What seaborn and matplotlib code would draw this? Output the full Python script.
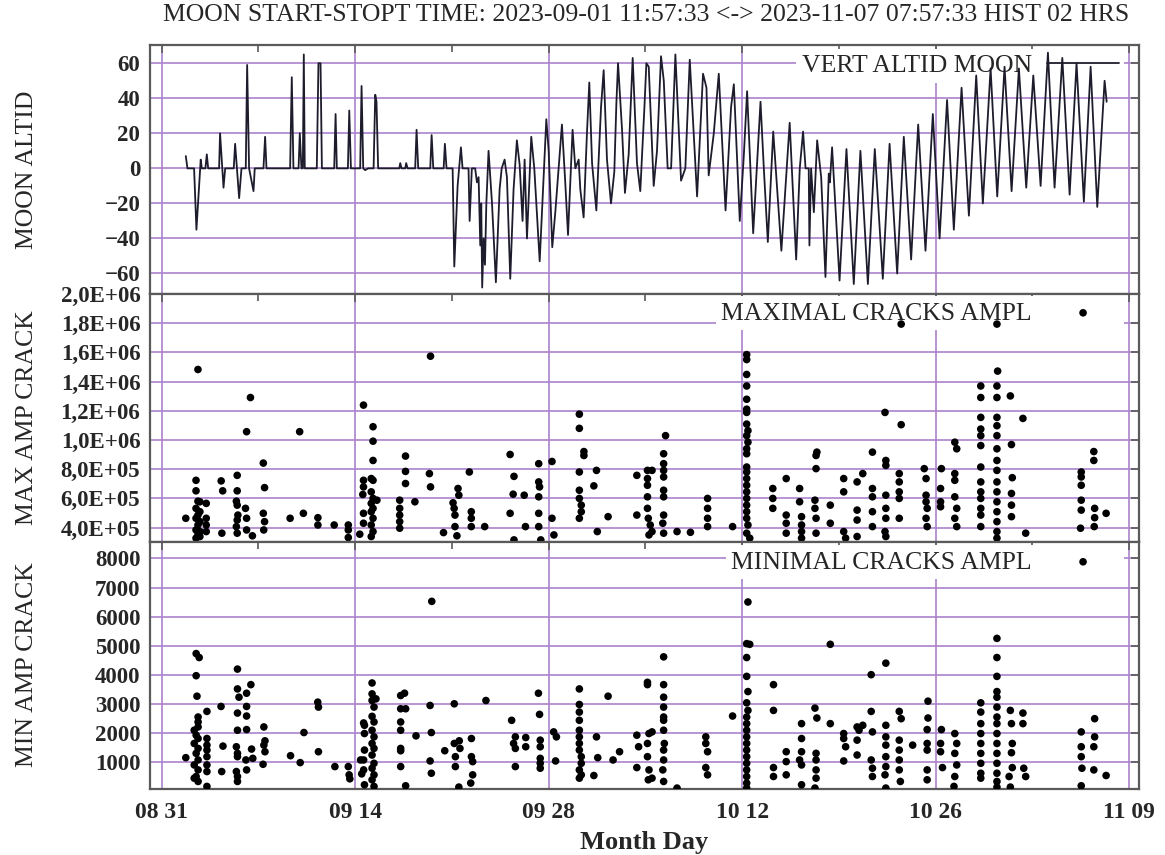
import pandas as pd
import matplotlib
matplotlib.use("Agg")
import matplotlib.pyplot as plt
import matplotlib.dates as mdates
from matplotlib.ticker import FuncFormatter, FixedLocator
import seaborn as sns

# ----------------------------
# Daten (Tage ab 2023-08-31, Werte abgelesen)
# ----------------------------

START = pd.Timestamp("2023-08-31")
TITLE = "MOON START-STOPT TIME: 2023-09-01 11:57:33 <-> 2023-11-07 07:57:33 HIST 02 HRS"

# Mondhoehe (Grad), Stuetzpunkte der Linie
ALT_POINTS = [
    (1.74, 7), (1.86, 0), (2.34, 0), (2.51, -35), (2.82, 5), (2.90, 0), (3.16, 0), (3.26, 8),
    (3.36, 0), (4.15, 0), (4.22, 20), (4.47, -11), (4.59, 0), (5.21, 0), (5.31, 14), (5.60, -17),
    (5.77, 0), (6.08, 0), (6.18, 59), (6.32, 0), (6.64, -13), (6.73, 0), (7.36, 0), (7.48, 18),
    (7.58, 0), (9.29, 0), (9.41, 52), (9.53, 0), (9.90, 0), (9.99, 20), (10.11, 0), (10.21, 0),
    (10.28, 65), (10.35, 0), (11.22, 0), (11.34, 60), (11.49, 60), (11.59, 0), (12.48, 0),
    (12.58, 31), (12.67, 0), (13.47, 0), (13.57, 33), (13.69, 0), (14.36, 0), (14.46, 47),
    (14.58, 0), (14.72, -1), (14.94, 0), (15.33, 0), (15.45, 42), (15.54, 38), (15.66, 0),
    (17.19, 0), (17.26, 3), (17.35, 0), (17.62, 0), (17.69, 3), (17.79, 0), (18.34, 0),
    (18.44, 22), (18.56, 0), (19.43, 0), (19.53, 19), (19.65, 0), (20.40, 0), (20.49, 14),
    (20.61, 0), (21.05, 0), (21.17, -56), (21.41, -10), (21.65, 12), (21.77, 0),
    (21.84, 0), (22.20, 0), (22.28, -30), (22.44, 0), (22.68, 0), (22.81, -8), (22.93, -5),
    (23.05, -44), (23.12, -20), (23.19, -68), (23.29, -40), (23.39, -55), (23.49, -20),
    (23.65, 10), (23.90, -20), (24.18, -65), (24.45, -12), (24.60, 0), (24.81, 5), (24.98, -5),
    (25.22, -63), (25.46, -12), (25.70, 16), (25.90, 2), (26.11, -30), (26.26, 5), (26.43, -40),
    (26.74, 18), (26.96, 0), (27.35, -53), (27.83, 28), (28.00, 10), (28.26, -45), (28.48, -25),
    (28.72, 0), (28.96, 25), (29.20, -8), (29.40, -38), (29.73, 22), (29.93, 0), (30.17, 5),
    (30.29, -12), (30.53, -28), (30.77, 20), (30.94, 49), (31.14, 3), (31.45, -24), (31.79, 35),
    (31.98, 56), (32.22, 5), (32.51, -20), (32.75, -2), (32.90, 37), (33.02, 60), (33.31, 22),
    (33.52, -14), (33.79, 8), (34.08, 63), (34.39, 3), (34.63, -13), (34.93, 35), (35.07, 60),
    (35.24, 58), (35.60, -10), (35.84, 10), (36.13, 64), (36.33, 50), (36.61, 0), (36.86, 0),
    (37.17, 65), (37.58, -7), (37.89, 0), (38.21, 62), (38.74, -16), (39.17, 54), (39.42, 46),
    (39.58, -4), (39.95, 20), (40.31, 54), (40.80, -24), (41.20, 35), (41.40, 48), (41.83, -30),
    (42.12, 7), (42.36, 44), (42.80, -37), (43.33, 38), (43.57, 0), (43.86, -42), (44.25, 21),
    (44.84, -47), (45.44, 26), (45.91, -52),
    (46.17, 0), (46.41, 21), (46.59, 0), (46.82, 0), (46.87, -44), (46.99, 0), (47.19, -25),
    (47.43, 16), (47.72, -5), (48.03, -62), (48.27, -3), (48.35, -8), (48.51, 12), (49.05, -64),
    (49.55, 11), (50.08, -66), (50.56, 10), (51.10, -66), (51.60, 11), (52.18, -63), (52.67, 14),
    (53.22, -60), (53.70, 18), (54.23, -52), (54.74, 25), (55.27, -47), (55.80, 31), (56.29, -40),
    (56.83, 39), (57.32, -35), (57.88, 46), (58.41, -27), (58.94, 53), (59.42, -20), (59.98, 57),
    (60.46, -16), (60.99, 58), (61.50, -13), (62.03, 57), (62.56, -11), (63.07, 53), (63.60, -10),
    (64.13, 66), (64.61, -11), (65.17, 63), (65.70, -15), (66.20, 60), (66.73, -19), (67.22, 58),
    (67.70, -22), (68.23, 50), (68.38, 38),
]

# Maximale Amplitude je Riss
MAX_POINTS = [
    (1.74, 4.64e5), (2.62, 1.483e6), (2.48, 7.24e5), (2.48, 6.52e5), (2.62, 5.81e5), (2.48, 5.32e5),
    (2.62, 4.86e5), (2.48, 4.64e5), (2.62, 4.18e5), (2.48, 3.84e5), (2.62, 3.50e5), (2.48, 3.28e5),
    (2.76, 5.77e5), (2.76, 5.09e5), (2.76, 4.41e5), (2.76, 3.73e5), (2.76, 3.39e5),
    (3.22, 5.66e5), (3.22, 4.64e5), (3.22, 4.18e5), (3.22, 3.73e5),
    (4.35, 3.62e5), (4.30, 7.20e5), (4.41, 6.52e5),
    (5.46, 7.58e5), (5.46, 6.52e5), (5.40, 5.81e5), (5.46, 5.54e5), (5.51, 4.86e5), (5.46, 4.52e5),
    (5.40, 4.07e5), (5.46, 3.62e5),
    (6.14, 1.057e6), (6.14, 4.64e5), (6.14, 3.84e5), (6.06, 5.32e5), (6.42, 1.291e6), (6.56, 3.44e5),
    (7.35, 8.42e5), (7.44, 6.74e5), (7.35, 4.98e5), (7.44, 4.41e5), (7.38, 3.84e5),
    (9.29, 4.64e5), (9.98, 1.057e6), (10.25, 4.98e5), (11.30, 4.68e5), (11.30, 4.18e5),
    (12.48, 4.18e5), (13.50, 4.18e5), (13.50, 3.84e5), (13.50, 3.32e5), (14.33, 3.55e5),
    (14.60, 1.239e6), (14.60, 7.24e5), (14.60, 6.79e5), (14.55, 6.27e5), (14.60, 4.98e5), (14.60, 4.30e5),
    (15.29, 1.091e6), (15.29, 9.92e5), (15.29, 8.60e5), (15.16, 7.36e5), (15.29, 7.24e5), (15.16, 6.45e5),
    (15.29, 6.00e5), (15.16, 5.66e5), (15.29, 5.32e5), (15.16, 5.09e5), (15.29, 4.64e5), (15.16, 4.18e5),
    (15.29, 3.73e5), (15.16, 3.39e5), (15.57, 5.88e5),
    (17.22, 5.88e5), (17.22, 5.32e5), (17.22, 4.86e5), (17.22, 4.41e5), (17.22, 3.96e5),
    (17.64, 8.90e5), (17.64, 7.85e5), (17.64, 7.02e5), (18.32, 5.77e5),
    (19.37, 7.70e5), (19.45, 6.79e5), (19.45, 1.574e6), (20.39, 3.66e5),
    (21.08, 5.70e5), (21.16, 5.32e5), (21.22, 4.86e5), (21.22, 4.07e5), (21.44, 6.68e5), (21.50, 6.22e5),
    (21.36, 3.44e5), (22.26, 7.81e5), (22.40, 5.09e5), (22.40, 4.64e5), (22.40, 4.07e5), (23.37, 4.07e5),
    (25.21, 9.01e5), (25.49, 7.51e5), (25.43, 6.29e5), (25.21, 4.98e5), (25.49, 3.16e5),
    (26.23, 6.22e5), (26.32, 4.07e5),
    (27.28, 8.38e5), (27.28, 7.13e5), (27.34, 6.79e5), (27.28, 6.11e5), (27.28, 4.98e5), (27.28, 4.07e5),
    (27.43, 3.16e5), (28.24, 8.53e5), (28.24, 4.64e5), (28.38, 3.50e5),
    (30.22, 1.177e6), (30.22, 1.080e6), (30.55, 9.21e5), (30.55, 8.94e5), (30.22, 7.81e5), (31.46, 7.92e5),
    (31.27, 6.86e5), (30.22, 6.56e5), (30.22, 6.00e5), (30.36, 5.54e5), (30.36, 5.09e5), (30.22, 4.64e5),
    (31.52, 3.73e5), (32.30, 4.75e5),
    (34.38, 7.58e5), (34.38, 4.86e5), (35.15, 7.92e5), (35.48, 7.92e5), (35.15, 7.36e5), (35.15, 6.90e5),
    (35.15, 6.11e5), (35.15, 5.32e5), (35.21, 4.64e5), (35.35, 4.18e5), (35.48, 3.73e5), (35.26, 3.50e5),
    (36.46, 1.030e6), (36.32, 9.06e5), (36.32, 8.38e5), (36.32, 7.92e5), (36.32, 7.47e5), (36.32, 6.56e5),
    (36.32, 6.11e5), (36.32, 4.86e5), (36.26, 4.30e5), (36.32, 3.62e5),
    (37.29, 3.73e5), (38.26, 3.68e5), (39.50, 6.00e5), (39.50, 5.32e5), (39.50, 4.64e5), (39.50, 4.07e5),
    (41.31, 4.07e5),
    (42.33, 1.585e6), (42.33, 1.551e6), (42.33, 1.449e6), (42.33, 1.370e6), (42.33, 1.279e6),
    (42.33, 1.211e6), (42.33, 1.189e6), (42.33, 1.109e6), (42.42, 1.064e6), (42.33, 1.030e6),
    (42.42, 9.85e5), (42.33, 9.40e5), (42.33, 9.06e5), (42.33, 8.15e5), (42.33, 7.81e5), (42.33, 7.36e5),
    (42.33, 6.90e5), (42.33, 6.45e5), (42.33, 6.00e5), (42.33, 5.54e5), (42.33, 5.09e5), (42.33, 4.64e5),
    (42.42, 4.18e5), (42.33, 3.62e5), (42.55, 3.28e5),
    (44.22, 6.68e5), (44.22, 6.00e5), (44.22, 5.32e5), (45.19, 7.36e5), (45.19, 4.86e5), (45.19, 4.30e5),
    (45.19, 3.62e5), (46.16, 6.68e5), (46.16, 5.77e5), (46.30, 4.75e5), (46.30, 4.18e5), (46.30, 3.73e5),
    (46.30, 3.28e5),
    (47.41, 9.17e5), (47.35, 8.94e5), (47.35, 8.04e5), (47.27, 5.88e5), (47.27, 5.32e5), (47.35, 4.64e5),
    (47.35, 3.62e5), (48.38, 5.54e5), (48.38, 4.30e5),
    (49.35, 7.36e5), (49.35, 6.45e5), (49.35, 3.73e5), (49.49, 3.28e5), (50.32, 7.13e5), (50.32, 5.20e5),
    (50.32, 4.52e5), (50.32, 3.39e5), (50.73, 7.70e5),
    (51.43, 9.17e5), (51.43, 6.68e5), (51.43, 6.11e5), (51.43, 5.09e5), (51.43, 4.07e5),
    (52.34, 1.189e6), (52.40, 8.60e5), (52.40, 8.26e5), (52.40, 6.22e5), (52.40, 5.32e5), (52.40, 4.64e5),
    (52.34, 3.73e5), (52.40, 3.39e5),
    (53.37, 7.70e5), (53.37, 7.13e5), (53.37, 6.45e5), (53.37, 6.00e5), (53.37, 4.64e5), (53.51, 1.105e6),
    (53.51, 1.794e6),
    (55.18, 8.04e5), (55.31, 7.36e5), (55.31, 6.22e5), (55.31, 5.77e5), (55.39, 5.32e5), (55.31, 4.64e5),
    (55.39, 4.07e5), (56.42, 8.04e5), (56.36, 6.68e5), (56.36, 5.77e5), (56.36, 5.43e5),
    (57.39, 9.85e5), (57.53, 9.40e5), (57.39, 7.70e5), (57.39, 7.24e5), (57.39, 6.11e5), (57.53, 5.32e5),
    (57.39, 4.64e5), (57.53, 4.07e5),
    (59.27, 1.370e6), (59.27, 1.291e6), (59.27, 1.155e6), (59.27, 1.075e6), (59.27, 1.030e6),
    (59.27, 9.62e5), (59.27, 8.15e5), (59.27, 7.13e5), (59.27, 6.45e5), (59.27, 6.00e5), (59.27, 5.32e5),
    (59.27, 4.86e5), (59.27, 4.07e5),
    (60.44, 1.794e6), (60.49, 1.472e6), (60.44, 1.370e6), (60.44, 1.291e6), (60.44, 1.155e6),
    (60.44, 1.098e6), (60.44, 1.030e6), (60.44, 9.40e5), (60.44, 8.60e5), (60.44, 7.92e5), (60.44, 7.13e5),
    (60.44, 6.45e5), (60.44, 5.77e5), (60.44, 5.09e5), (60.44, 4.41e5), (60.44, 3.73e5), (60.44, 3.28e5),
    (61.41, 1.302e6), (61.49, 9.69e5), (61.55, 7.42e5), (61.49, 6.34e5), (61.49, 5.54e5), (61.49, 4.75e5),
    (62.32, 1.148e6), (62.52, 3.62e5),
    (66.54, 7.81e5), (66.54, 7.47e5), (66.54, 6.90e5), (66.54, 5.88e5), (66.54, 5.20e5), (66.49, 3.96e5),
    (67.45, 9.21e5), (67.45, 8.60e5), (67.51, 5.32e5), (67.51, 4.68e5), (67.48, 4.07e5), (68.34, 4.98e5),
]

# Minimale Amplitude je Riss
MIN_POINTS = [
    (1.74, 1156), (2.49, 4731), (2.71, 4595), (2.49, 3971), (2.55, 3267),
    (2.63, 2552), (2.63, 2382), (2.63, 2211), (2.35, 2098), (2.49, 1928), (2.63, 1814), (2.35, 1644),
    (2.63, 1474), (2.49, 1304), (2.63, 1077), (2.35, 906), (2.63, 736), (2.49, 509), (2.35, 452),
    (2.63, 339),
    (3.27, 2745), (3.27, 1814), (3.27, 1587), (3.27, 1417), (3.27, 1190), (3.27, 906), (3.27, 679),
    (3.27, 169), (4.29, 2915), (4.34, 679), (4.43, 1553),
    (5.48, 4198), (5.48, 3517), (5.59, 3233), (5.48, 2688), (5.48, 2098), (5.40, 1531), (5.48, 1304),
    (5.48, 1190), (5.40, 679), (5.48, 509), (5.48, 339),
    (6.14, 3369), (6.14, 2915), (6.14, 2586), (6.14, 2121), (6.09, 1077), (6.14, 736),
    (6.45, 3664), (6.50, 1451), (6.59, 1133),
    (7.39, 2211), (7.47, 1735), (7.39, 1587), (7.47, 1360), (7.33, 929),
    (9.32, 1224), (10.02, 986), (10.29, 2019), (11.29, 3063), (11.34, 2893), (11.34, 1360),
    (12.53, 850), (13.50, 850), (13.56, 566), (13.61, 430), (14.39, 1077), (14.47, 600),
    (14.61, 2348), (14.67, 2268), (14.67, 1985), (14.67, 1417), (14.61, 1077), (14.61, 736), (14.67, 225),
    (15.22, 3721), (15.22, 3347), (15.22, 3119), (15.36, 2893), (15.22, 2575), (15.36, 2382),
    (15.22, 2098), (15.36, 1871), (15.22, 1644), (15.36, 1474), (15.22, 1247), (15.36, 963),
    (15.22, 793), (15.36, 566), (15.22, 396), (15.36, 169), (15.50, 3176),
    (17.29, 3290), (17.57, 3369), (17.29, 2836), (17.65, 2836), (17.29, 2382), (17.29, 2098),
    (17.29, 1474), (17.29, 1394), (17.29, 850), (17.65, 191), (18.40, 1905),
    (19.42, 2949), (19.51, 2019), (19.42, 1043), (19.51, 622), (19.54, 6524),
    (20.48, 1394), (21.17, 3006), (21.17, 1644), (21.25, 1190), (21.25, 850), (21.53, 1735),
    (21.58, 1474), (21.50, 146),
    (22.41, 1814), (22.41, 1190), (22.50, 1020), (22.50, 566), (22.36, 283), (23.46, 3119),
    (25.32, 2439), (25.46, 1644), (25.59, 1474), (25.59, 850), (25.59, 1871), (26.34, 1848), (26.34, 1531),
    (27.26, 3369), (27.34, 2643), (27.39, 1758), (27.39, 1531), (27.39, 1133), (27.39, 963), (27.39, 793),
    (28.36, 2041), (28.56, 1871), (28.50, 1043),
    (30.22, 3517), (30.22, 2983), (30.22, 2722), (30.22, 2439), (30.22, 2098), (30.22, 1871),
    (30.22, 1644), (30.22, 1417), (30.36, 1190), (30.36, 963), (30.22, 736), (30.36, 566), (30.22, 452),
    (31.27, 543), (31.46, 1871), (31.55, 1156), (32.30, 3267), (32.66, 1077), (33.13, 1360),
    (34.38, 1928), (34.51, 1531), (34.38, 816), (35.15, 3744), (35.15, 3664), (35.48, 2041),
    (35.26, 1985), (35.15, 1644), (35.15, 1190), (35.26, 736), (35.48, 452), (35.21, 396),
    (36.32, 4618), (36.32, 3664), (36.32, 3233), (36.32, 2893), (36.32, 2552), (36.32, 2439),
    (36.32, 2098), (36.37, 1644), (36.32, 1417), (36.32, 1077), (36.26, 736), (36.32, 339),
    (37.29, 112), (39.37, 1871), (39.37, 1644), (39.50, 1360), (39.37, 816), (39.50, 566), (41.31, 2586),
    (42.42, 6502), (42.33, 5072), (42.55, 5049), (42.33, 4595), (42.33, 3948), (42.42, 3426),
    (42.33, 3040), (42.42, 2779), (42.33, 2552), (42.33, 2325), (42.33, 2098), (42.33, 1871),
    (42.33, 1644), (42.33, 1417), (42.33, 1190), (42.33, 963), (42.33, 736), (42.33, 509),
    (42.33, 283), (42.33, 112),
    (44.27, 3664), (44.27, 2779), (44.27, 816), (44.27, 509), (45.19, 1360), (45.19, 1020), (45.19, 566),
    (46.30, 2325), (46.30, 1814), (46.30, 1360), (46.16, 1077), (46.30, 906), (46.30, 226),
    (47.27, 2858), (47.41, 2518), (47.35, 1304), (47.35, 1077), (47.35, 736), (47.35, 452), (47.27, 112),
    (48.38, 5049), (48.38, 2325),
    (49.35, 1985), (49.35, 1814), (49.49, 1531), (49.35, 1043), (50.32, 2211), (50.46, 2098),
    (50.32, 1758), (50.32, 1247), (50.73, 2268),
    (51.34, 4006), (51.34, 2745), (51.43, 2041), (51.34, 1077), (51.43, 793), (51.43, 509),
    (52.40, 4402), (52.40, 2268), (52.40, 1871), (52.40, 1587), (52.40, 1190), (52.40, 850),
    (52.34, 566), (52.40, 112),
    (53.37, 2745), (53.51, 2495), (53.37, 1758), (53.37, 1417), (53.37, 1077), (53.37, 736), (53.45, 339),
    (54.34, 1587), (55.45, 3097), (55.45, 2518), (55.39, 2121), (55.39, 1644), (55.39, 1417),
    (55.39, 736), (55.39, 396),
    (56.42, 2121), (56.36, 1644), (56.36, 1360), (56.50, 816),
    (57.39, 1985), (57.53, 1644), (57.39, 1304), (57.53, 906), (57.39, 509), (57.33, 169),
    (59.27, 3040), (59.27, 2722), (59.27, 2325), (59.27, 1985), (59.27, 1644), (59.27, 1304),
    (59.27, 963), (59.27, 622), (59.27, 452),
    (60.44, 5253), (60.44, 4595), (60.44, 3948), (60.44, 3426), (60.44, 3233), (60.44, 2893),
    (60.44, 2552), (60.44, 2325), (60.44, 1985), (60.44, 1644), (60.44, 1304), (60.44, 963),
    (60.44, 622), (60.44, 339), (60.44, 146),
    (61.41, 2779), (61.49, 2325), (61.55, 1644), (61.49, 1326), (61.55, 816), (61.32, 509), (61.41, 146),
    (62.32, 2688), (62.32, 2325), (62.38, 793), (62.52, 509),
    (66.54, 2041), (66.54, 1531), (66.54, 1190), (66.59, 793), (66.54, 191),
    (67.51, 2495), (67.51, 1871), (67.45, 1531), (67.45, 736), (68.34, 543),
]

X_TICK_DAYS = [0, 14, 28, 42, 56, 70]
X_MINOR_DAYS = [7, 21, 35, 49, 63]
ALT_TICKS = [-60, -40, -20, 0, 20, 40, 60]
MAX_TICKS = [4e5, 6e5, 8e5, 1.0e6, 1.2e6, 1.4e6, 1.6e6, 1.8e6, 2.0e6]
MIN_TICKS = [1000, 2000, 3000, 4000, 5000, 6000, 7000, 8000]

GRID_COLOR = "#ab82cc"
FRAME_COLOR = "#5a5a5a"


def als_frame(points, spalte):
    df = pd.DataFrame(points, columns=["tag", spalte])
    df["zeit"] = START + pd.to_timedelta(df["tag"], unit="D")
    return df


def style_axis(ax, ylim, yticks):
    ax.set_xlim(START - pd.Timedelta(days=0.85), START + pd.Timedelta(days=70.72))
    ax.set_ylim(*ylim)
    ax.set_yticks(yticks)
    ax.xaxis.set_major_locator(FixedLocator(
        [mdates.date2num(START + pd.Timedelta(days=d)) for d in X_TICK_DAYS]))
    ax.xaxis.set_minor_locator(FixedLocator(
        [mdates.date2num(START + pd.Timedelta(days=d)) for d in X_MINOR_DAYS]))
    ax.xaxis.set_major_formatter(mdates.DateFormatter("%m %d"))
    ax.set_axisbelow(True)
    ax.grid(True, which="major", color=GRID_COLOR, linewidth=1.2)
    ax.tick_params(which="both", direction="in", top=True, right=True,
                   color=FRAME_COLOR, width=1.2)
    ax.tick_params(which="major", length=6)
    ax.tick_params(which="minor", length=5)
    ax.tick_params(axis="y", labelsize=16.5, pad=7)
    ax.tick_params(axis="x", labelsize=17, pad=9)
    for sp in ax.spines.values():
        sp.set_color(FRAME_COLOR)
        sp.set_linewidth(1.6)
    ax.set_xlabel("")
    ax.set_ylabel("")


def add_key(ax, y_anchor):
    leg = ax.legend(loc="center right", bbox_to_anchor=(0.985, y_anchor), markerfirst=False,
                    frameon=True, facecolor="white", edgecolor="none", framealpha=1,
                    fontsize=18.5, handlelength=2.8, handletextpad=0.6, borderpad=0.2,
                    borderaxespad=0, fancybox=False)
    leg.set_zorder(1.5)
    return leg


# ----------------------------
# Plot
# ----------------------------

sns.set_theme(style="white")
plt.rcParams["font.family"] = ["Liberation Serif", "DejaVu Serif"]

alt_df = als_frame(ALT_POINTS, "hoehe")
max_df = als_frame(MAX_POINTS, "amp")
min_df = als_frame(MIN_POINTS, "amp")

fig = plt.figure(figsize=(11.65, 8.55), dpi=100)
links, breite = 150 / 1165, 989 / 1165
ax1 = fig.add_axes([links, 1 - 294 / 855, breite, 249 / 855])
ax2 = fig.add_axes([links, 1 - 541.5 / 855, breite, 247.5 / 855], sharex=ax1)
ax3 = fig.add_axes([links, 1 - 789 / 855, breite, 247.5 / 855], sharex=ax1)

# Mondhoehe
sns.lineplot(data=alt_df, x="zeit", y="hoehe", ax=ax1, color="#1c1c2c", linewidth=1.3,
             estimator=None, sort=False, label="VERT ALTID MOON", zorder=2)
style_axis(ax1, (-71.7, 70.4), ALT_TICKS)
add_key(ax1, 0.916)

# Maximale Amplituden
sns.scatterplot(data=max_df, x="zeit", y="amp", ax=ax2, color="black", s=30,
                edgecolor="none", label="MAXIMAL CRACKS AMPL", zorder=3)
style_axis(ax2, (3.05e5, 2.0e6), MAX_TICKS)
ax2.yaxis.set_major_formatter(FuncFormatter(lambda v, p: f"{v:.1E}".replace(".", ",")))
add_key(ax2, 0.923)

# Minimale Amplituden
sns.scatterplot(data=min_df, x="zeit", y="amp", ax=ax3, color="black", s=30,
                edgecolor="none", label="MINIMAL CRACKS AMPL", zorder=3)
style_axis(ax3, (80, 8580), MIN_TICKS)
add_key(ax3, 0.917)

for ax in (ax1, ax2):
    ax.tick_params(axis="x", labelbottom=False)
for ax in (ax1, ax2, ax3):
    for lbl in ax.get_yticklabels() + ax.get_xticklabels():
        lbl.set_fontweight("bold")

# Beschriftungen
fig.text(646 / 1165, 1 - 15 / 855, TITLE, ha="center", va="center", fontsize=18.5)
for text, y_px in [("MOON ALTID", 170), ("MAX AMP CRACK", 418), ("MIN AMP CRACK", 665)]:
    fig.text(27 / 1165, 1 - y_px / 855, text, rotation=90, ha="center", va="center", fontsize=18.5)
fig.text(644 / 1165, 1 - 842 / 855, "Month Day", ha="center", va="center",
         fontsize=19, fontweight="bold")

fig.savefig("out.png", dpi=100)
